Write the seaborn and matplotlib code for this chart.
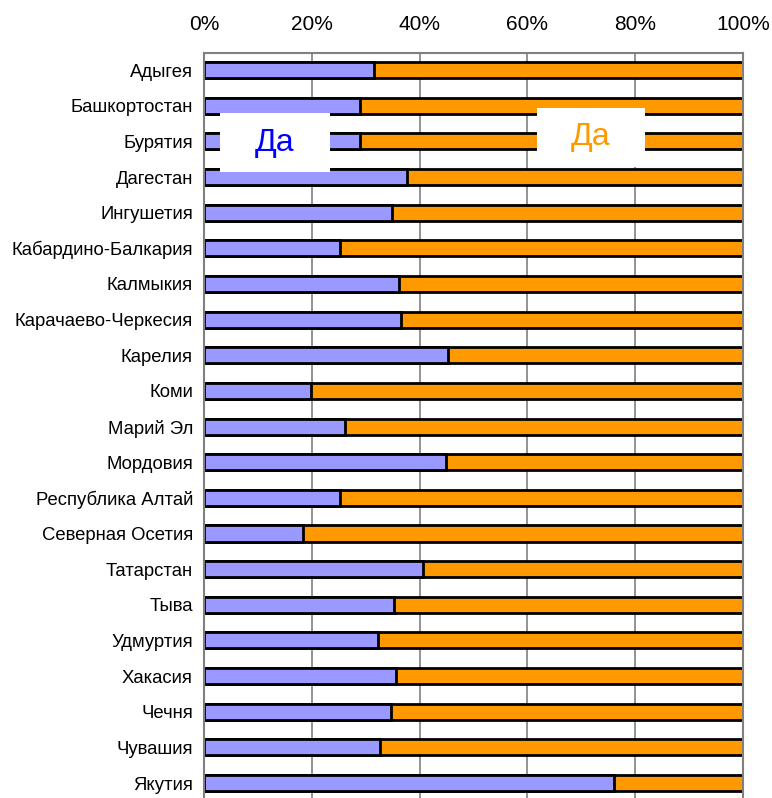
import pandas as pd
import matplotlib.pyplot as plt
import seaborn as sns
from matplotlib.patches import Rectangle

# регионы и доли (в процентах)
regions = [
    "Адыгея", "Башкортостан", "Бурятия", "Дагестан", "Ингушетия",
    "Кабардино-Балкария", "Калмыкия", "Карачаево-Черкесия", "Карелия", "Коми",
    "Марий Эл", "Мордовия", "Республика Алтай", "Северная Осетия", "Татарстан",
    "Тыва", "Удмуртия", "Хакасия", "Чечня", "Чувашия", "Якутия",
]
da_blue = [31.5, 28.9, 28.9, 37.7, 34.9, 25.2, 36.2, 36.5, 45.3, 19.9,
           26.2, 44.9, 25.2, 18.4, 40.6, 35.3, 32.3, 35.6, 34.7, 32.7, 76.1]
da_orange = [100 - v for v in da_blue]
xticks = [0, 20, 40, 60, 80, 100]

df = pd.DataFrame({"region": regions, "blue": da_blue, "orange": da_orange})
df["total"] = df["blue"] + df["orange"]

sns.set_style("white")
plt.rcParams["font.family"] = ["Liberation Sans", "DejaVu Sans"]

W, H = 772, 798
fig = plt.figure(figsize=(W / 100, H / 100), dpi=100)
ax = fig.add_axes([204 / W, 0, (743 - 204) / W, (H - 53) / H])

sns.barplot(data=df, x="total", y="region", orient="h", color="#FF9900",
            edgecolor="black", linewidth=2, width=0.45, saturation=1, ax=ax)
sns.barplot(data=df, x="blue", y="region", orient="h", color="#9999FF",
            edgecolor="black", linewidth=2, width=0.45, saturation=1, ax=ax)

ax.set_xlim(0, 100)
ax.set_ylim(20.42, -0.48)
ax.set_xticks(xticks)
ax.set_xticklabels([f"{t}%" for t in xticks], fontsize=15)
ax.xaxis.tick_top()
ax.tick_params(axis="x", length=0, pad=14, labelcolor="black")
ax.tick_params(axis="y", length=0, labelsize=13.3, pad=8, labelcolor="black")
ax.set_xlabel("")
ax.set_ylabel("")
ax.grid(axis="x", color="#808080", linewidth=1.2)
ax.set_axisbelow(True)
for side in ["top", "left", "right"]:
    ax.spines[side].set_color("#808080")
    ax.spines[side].set_linewidth(1.5)
ax.spines["bottom"].set_visible(False)

# подписи легенды в белых рамках
for (x0, y0, x1, y1), col in [((220, 113, 330, 172), "#0000FF"),
                              ((537, 108, 645, 167), "#FF9900")]:
    fig.patches.append(Rectangle((x0 / W, 1 - y1 / H), (x1 - x0) / W, (y1 - y0) / H,
                                 transform=fig.transFigure, facecolor="white",
                                 edgecolor="none", zorder=5))
    fig.text((x0 + x1) / 2 / W, 1 - (y0 + y1) / 2 / H, "Да", color=col,
             fontsize=23, ha="center", va="center", zorder=6)

plt.savefig("out.png", dpi=100)
